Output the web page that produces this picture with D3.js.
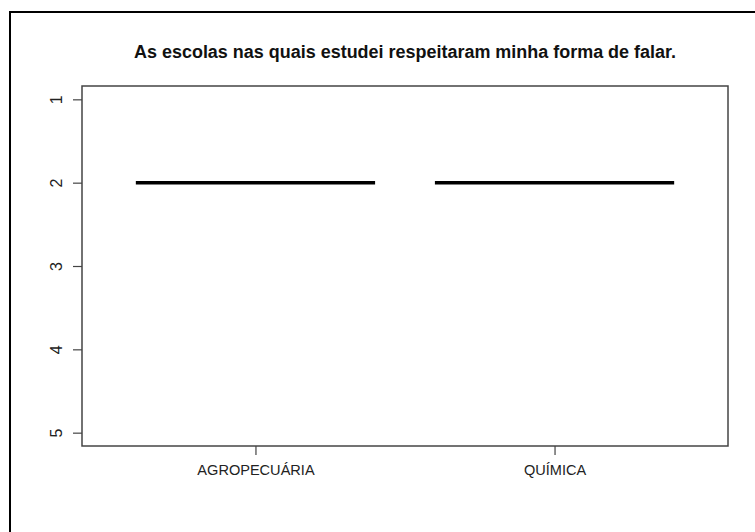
<!DOCTYPE html>
<html><head><meta charset="utf-8">
<script src="https://cdn.jsdelivr.net/npm/d3@7"></script>
<style>html,body{margin:0;padding:0;background:#fff}svg{display:block}</style>
</head><body>
<script>
const title = "As escolas nas quais estudei respeitaram minha forma de falar.";
const categories = ["AGROPECUÁRIA", "QUÍMICA"];
const q1 = [2, 2];
const medians = [2, 2];
const q3 = [2, 2];
const whiskerLow = [2, 2];
const whiskerHigh = [2, 2];
const yTicks = [1, 2, 3, 4, 5];

(function () {
const W = 755, H = 532;
const svg = d3.select("body").append("svg").attr("width", W).attr("height", H);
const font = "'Liberation Sans', Arial, sans-serif";

// outer frame (top and left visible)
svg.append("path").attr("d", `M10,${H}V12H${W}`).attr("fill", "none")
  .attr("stroke", "#000").attr("stroke-width", 2);

const pl = 82, pr = 728, pt = 86, pb = 446;
const n = categories.length;
const x = d3.scaleLinear().domain([0.5 - 0.04 * n, n + 0.5 + 0.04 * n]).range([pl, pr]);
const y = d3.scaleLinear().domain([1 - 0.16, 5 + 0.16]).range([pt, pb]);

// plot box
svg.append("rect").attr("x", pl).attr("y", pt).attr("width", pr - pl).attr("height", pb - pt)
  .attr("fill", "none").attr("stroke", "#444").attr("stroke-width", 1.5);

// title
svg.append("text").attr("x", (pl + pr) / 2).attr("y", 57.5)
  .attr("text-anchor", "middle").attr("font-family", font).attr("font-weight", "bold")
  .attr("font-size", 17.5).attr("fill", "#111")
  .attr("textLength", 542).attr("lengthAdjust", "spacingAndGlyphs").text(title);

// y axis (left), reversed scale
const yAxis = svg.append("g").attr("transform", `translate(${pl},0)`)
  .call(d3.axisLeft(y).tickValues(yTicks).tickSize(9).tickFormat(d3.format("d")));
yAxis.select(".domain").remove();
yAxis.selectAll(".tick line").attr("stroke", "#444").attr("stroke-width", 1.2);
yAxis.selectAll(".tick text").attr("font-family", font).attr("font-size", 16).attr("fill", "#222")
  .attr("text-anchor", "middle").attr("x", 0).attr("dy", null)
  .attr("transform", "translate(-26,0) rotate(-90)").attr("dominant-baseline", "central");

// x axis
const xAxis = svg.append("g").attr("transform", `translate(0,${pb})`)
  .call(d3.axisBottom(x).tickValues(d3.range(1, n + 1)).tickSize(9).tickFormat(i => categories[i - 1]));
xAxis.select(".domain").remove();
xAxis.selectAll(".tick line").attr("stroke", "#444").attr("stroke-width", 1.2);
xAxis.selectAll(".tick text").attr("font-family", font).attr("font-size", 15).attr("fill", "#222")
  .attr("y", 24).attr("dy", "0.35em")
  .each(function () {
    const w = this.getComputedTextLength();
    d3.select(this).attr("textLength", w * 0.97).attr("lengthAdjust", "spacingAndGlyphs");
  });

// boxes
const bw = 0.4;
const g = svg.append("g");
categories.forEach((c, i) => {
  const cx = i + 1;
  g.append("line").attr("x1", x(cx)).attr("x2", x(cx)).attr("y1", y(whiskerLow[i])).attr("y2", y(q1[i]))
    .attr("stroke", "#000").attr("stroke-dasharray", "4,3");
  g.append("line").attr("x1", x(cx)).attr("x2", x(cx)).attr("y1", y(q3[i])).attr("y2", y(whiskerHigh[i]))
    .attr("stroke", "#000").attr("stroke-dasharray", "4,3");
  g.append("rect").attr("x", x(cx - bw)).attr("width", x(cx + bw) - x(cx - bw))
    .attr("y", Math.min(y(q1[i]), y(q3[i]))).attr("height", Math.abs(y(q3[i]) - y(q1[i])))
    .attr("fill", "none").attr("stroke", "#000");
  g.append("line").attr("x1", x(cx - bw)).attr("x2", x(cx + bw)).attr("y1", y(medians[i])).attr("y2", y(medians[i]))
    .attr("stroke", "#000").attr("stroke-width", 3.5);
});
})();
</script>
</body></html>
